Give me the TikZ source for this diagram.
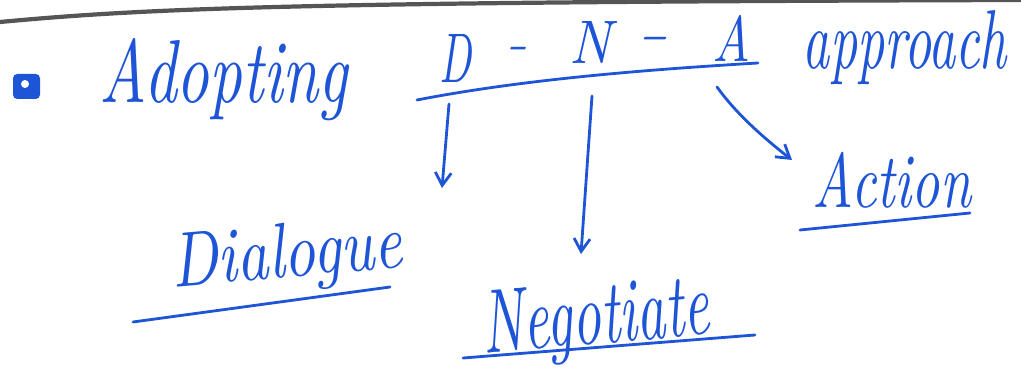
\documentclass[tikz,border=0pt]{standalone}
\usetikzlibrary{arrows.meta}
\definecolor{ink}{RGB}{30,85,215}
\definecolor{edge}{RGB}{85,85,85}
\tikzset{
  hand/.style={inner sep=0pt, text=ink, font=\itshape},
  pen/.style={draw=ink, line width=2pt, line cap=round},
  arr/.style={pen, -{Straight Barb[length=3.2mm,width=4mm]}},
}
\begin{document}
\begin{tikzpicture}[x=0.025cm,y=-0.025cm]
\useasboundingbox (0,0) rectangle (1021,385);
% page edge
\draw[edge, line width=3pt] (0,22) .. controls (150,8) and (300,2) .. (1021,0);
% bullet
\fill[ink, rounded corners=3pt] (13,74) rectangle (40,99);
\fill[white] (25,84) circle (4);
% headline
\node[hand] (adopt) at (224,80) {\resizebox{6.2cm}{1.6cm}{Adopting}};
\node[hand] (D) at (456,58) {\resizebox{0.8cm}{1.2cm}{D}};
\node[hand, anchor=north] (d1) at (517,47) {\resizebox{0.55cm}{0.28cm}{-}};
\node[hand] (N) at (591,42) {\resizebox{1.05cm}{1.05cm}{N}};
\node[hand, anchor=north] (d2) at (653,37) {\resizebox{0.8cm}{0.28cm}{-}};
\node[hand] (A) at (731,38) {\resizebox{0.95cm}{1.15cm}{A}};
\node[hand] (appr) at (905,48) {\resizebox{5.1cm}{1.45cm}{approach}};
\coordinate (ulL) at (417,100);
\coordinate (ulR) at (758,63);
\draw[pen] (ulL) .. controls (520,80) and (640,70) .. (ulR);
% targets
\node[hand, rotate=5] (dia) at (287,258) {\resizebox{5.8cm}{1.35cm}{Dialogue}};
\node[hand, rotate=5] (neg) at (596,322) {\resizebox{5.7cm}{1.55cm}{Negotiate}};
\node[hand] (act) at (892,180) {\resizebox{3.95cm}{1.38cm}{Action}};
\draw[pen] (133,322) -- (390,287);
\draw[pen] (463,358) -- (755,335);
\draw[pen] (800,230) -- (970,213);
% arrows
\coordinate (dS) at (449,104);
\coordinate (dE) at (442,188);
\coordinate (nS) at (592,96);
\coordinate (nE) at (581,254);
\coordinate (aS) at (717,87);
\coordinate (aE) at (792,160);
\draw[arr] (dS) -- (dE);
\draw[arr] (nS) -- (nE);
\draw[arr] (aS) .. controls (735,112) and (760,135) .. (aE);
\end{tikzpicture}
\end{document}
